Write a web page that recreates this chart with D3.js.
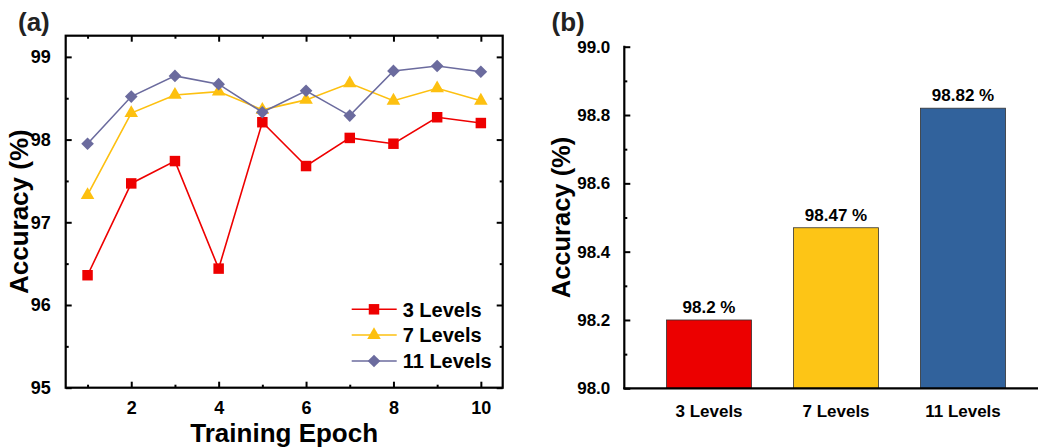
<!DOCTYPE html>
<html>
<head>
<meta charset="utf-8">
<script src="https://cdn.jsdelivr.net/npm/d3@7/dist/d3.min.js"></script>
<style>
  html, body { margin: 0; padding: 0; background: #fff; }
  svg { display: block; font-family: "Liberation Sans", Arial, sans-serif; font-weight: bold; }
</style>
</head>
<body>
<svg id="chart" width="1038" height="447"></svg>
<script>
// ---- data ----
const epochs = [1, 2, 3, 4, 5, 6, 7, 8, 9, 10];
const acc3 = [96.36, 97.47, 97.74, 96.44, 98.21, 97.68, 98.02, 97.95, 98.27, 98.20];
const acc7 = [97.33, 98.32, 98.54, 98.58, 98.36, 98.48, 98.68, 98.47, 98.62, 98.47];
const acc11 = [97.95, 98.52, 98.77, 98.67, 98.33, 98.59, 98.29, 98.83, 98.89, 98.82];
const seriesNames = ["3 Levels", "7 Levels", "11 Levels"];
const seriesColors = ["#ee0000", "#fdc010", "#6b6b9e"];
const epochTicks = [2, 4, 6, 8, 10];
const accTicksA = [95, 96, 97, 98, 99];

const barCategories = ["3 Levels", "7 Levels", "11 Levels"];
const barValues = [98.2, 98.47, 98.82];
const barColors = ["#ec0000", "#fdc516", "#31629c"];
const accTicksB = [98.0, 98.2, 98.4, 98.6, 98.8, 99.0];

const svg = d3.select("#chart");
svg.append("rect").attr("width", 1038).attr("height", 447).attr("fill", "#fff");

// ---- panel (a): accuracy per training epoch ----
const A = { left: 65.7, right: 502.7, top: 35.7, bottom: 387.7 };
const xA = d3.scaleLinear().domain([0.5, 10.5]).range([A.left, A.right]);
const yA = d3.scaleLinear().domain([95, 99.256]).range([A.bottom, A.top]);
const gA = svg.append("g");

const majorLen = 6, minorLen = 3;
function inwardAxis(g, axisGen, transform) {
  const ax = g.append("g").attr("transform", transform).call(axisGen);
  ax.select(".domain").remove();
  ax.selectAll("line").attr("stroke", "#000").attr("stroke-width", 2);
  return ax;
}

// bottom axis (labels) with inward ticks
const xMinor = d3.range(1, 11, 2);
inwardAxis(gA, d3.axisBottom(xA).tickValues(epochTicks).tickSize(-majorLen).tickPadding(14)
  .tickFormat(d3.format("d")), `translate(0,${A.bottom})`)
  .selectAll("text").attr("font-size", 18).attr("font-family", "Liberation Sans, Arial").attr("font-weight", "bold").attr("fill", "#000");
inwardAxis(gA, d3.axisBottom(xA).tickValues(xMinor).tickSize(-minorLen).tickFormat(""), `translate(0,${A.bottom})`);
// top axis: inward ticks, no labels
inwardAxis(gA, d3.axisTop(xA).tickValues(epochTicks).tickSize(-majorLen).tickFormat(""), `translate(0,${A.top})`);
inwardAxis(gA, d3.axisTop(xA).tickValues(xMinor).tickSize(-minorLen).tickFormat(""), `translate(0,${A.top})`);
// left axis
const yMinorA = d3.range(95.5, 99.3, 1);
inwardAxis(gA, d3.axisLeft(yA).tickValues(accTicksA).tickSize(-majorLen).tickPadding(15)
  .tickFormat(d3.format("d")), `translate(${A.left},0)`)
  .selectAll("text").attr("font-size", 18).attr("font-family", "Liberation Sans, Arial").attr("font-weight", "bold").attr("fill", "#000");
inwardAxis(gA, d3.axisLeft(yA).tickValues(yMinorA).tickSize(-minorLen).tickFormat(""), `translate(${A.left},0)`);
// right axis
inwardAxis(gA, d3.axisRight(yA).tickValues(accTicksA).tickSize(-majorLen).tickFormat(""), `translate(${A.right},0)`);
inwardAxis(gA, d3.axisRight(yA).tickValues(yMinorA).tickSize(-minorLen).tickFormat(""), `translate(${A.right},0)`);

// frame
gA.append("rect").attr("x", A.left).attr("y", A.top)
  .attr("width", A.right - A.left).attr("height", A.bottom - A.top)
  .attr("fill", "none").attr("stroke", "#000").attr("stroke-width", 2.2);

// series
const seriesData = [acc3, acc7, acc11];
const symbolFor = [
  d3.symbol().type(d3.symbolSquare).size(110),
  d3.symbol().type(d3.symbolTriangle).size(80),
  d3.symbol().type(d3.symbolSquare).size(80)
];
const symbolRotate = [0, 0, 45];
const line = d3.line().x((d, i) => xA(epochs[i])).y(d => yA(d));

seriesData.forEach((vals, s) => {
  gA.append("path").datum(vals).attr("d", line)
    .attr("fill", "none").attr("stroke", seriesColors[s]).attr("stroke-width", 1.6);
  gA.selectAll(null).data(vals).enter().append("path")
    .attr("d", symbolFor[s]())
    .attr("transform", (d, i) => `translate(${xA(epochs[i])},${yA(d)}) rotate(${symbolRotate[s]})`)
    .attr("fill", seriesColors[s]);
});

// legend
const legendRows = [309.3, 335, 361];
seriesNames.forEach((name, s) => {
  const g = gA.append("g").attr("transform", `translate(0,${legendRows[s]})`);
  g.append("line").attr("x1", 351.7).attr("x2", 396.7).attr("y1", 0).attr("y2", 0)
    .attr("stroke", seriesColors[s]).attr("stroke-width", 1.6);
  g.append("path").attr("d", symbolFor[s]())
    .attr("transform", `translate(374,0) rotate(${symbolRotate[s]})`).attr("fill", seriesColors[s]);
  g.append("text").attr("x", 402.7).attr("y", 7.3).attr("font-size", 20).attr("fill", "#000").text(name);
});

// titles
gA.append("text").attr("x", (A.left + A.right) / 2).attr("y", 442).attr("text-anchor", "middle")
  .attr("font-size", 26).attr("fill", "#000").text("Training Epoch");
gA.append("text").attr("transform", `translate(27.5,${(A.top + A.bottom) / 2}) rotate(-90)`)
  .attr("text-anchor", "middle").attr("font-size", 26).attr("fill", "#000").text("Accuracy (%)");
svg.append("text").attr("x", 18).attr("y", 31).attr("font-size", 26).attr("fill", "#222").text("(a)");

// ---- panel (b): final accuracy per level count ----
const B = { left: 624.3, right: 1047.7, top: 46.7, bottom: 388.3 };
const xB = d3.scaleBand().domain(barCategories).range([B.left, B.right]).paddingInner(0.33).paddingOuter(0.332);
const yB = d3.scaleLinear().domain([98.0, 99.0]).range([B.bottom, B.top]);
const gB = svg.append("g");

gB.selectAll("rect.bar").data(barValues).enter().append("rect").attr("class", "bar")
  .attr("x", (d, i) => xB(barCategories[i]))
  .attr("width", xB.bandwidth())
  .attr("y", d => yB(d))
  .attr("height", d => yB(98.0) - yB(d))
  .attr("fill", (d, i) => barColors[i])
  .attr("stroke", "#333").attr("stroke-width", 0.8);

gB.selectAll("text.val").data(barValues).enter().append("text").attr("class", "val")
  .attr("x", (d, i) => xB(barCategories[i]) + xB.bandwidth() / 2)
  .attr("y", d => yB(d) - 7)
  .attr("text-anchor", "middle").attr("font-size", 17).attr("fill", "#000")
  .text(d => d + " %");

// y axis
const yMinorB = d3.range(98.1, 99.0, 0.2);
const yAxB = gB.append("g").attr("transform", `translate(${B.left},0)`)
  .call(d3.axisLeft(yB).tickValues(accTicksB).tickSize(-majorLen).tickPadding(14).tickFormat(d3.format(".1f")));
yAxB.select(".domain").remove();
yAxB.selectAll("line").attr("stroke", "#000").attr("stroke-width", 2);
yAxB.selectAll("text").attr("font-size", 17).attr("font-family", "Liberation Sans, Arial").attr("font-weight", "bold").attr("fill", "#000");
const yAxBm = gB.append("g").attr("transform", `translate(${B.left},0)`)
  .call(d3.axisLeft(yB).tickValues(yMinorB).tickSize(-minorLen).tickFormat(""));
yAxBm.select(".domain").remove();
yAxBm.selectAll("line").attr("stroke", "#000").attr("stroke-width", 2);
gB.append("line").attr("x1", B.left).attr("x2", B.left).attr("y1", B.top - 1).attr("y2", B.bottom + 1)
  .attr("stroke", "#000").attr("stroke-width", 2.2);

// x axis
const xAxB = gB.append("g").attr("transform", `translate(0,${B.bottom})`)
  .call(d3.axisBottom(xB).tickSize(0).tickPadding(29));
xAxB.select(".domain").remove();
xAxB.selectAll("text").attr("font-size", 17).attr("font-family", "Liberation Sans, Arial").attr("font-weight", "bold").attr("fill", "#000")
  .attr("dy", "0");
gB.append("line").attr("x1", B.left - 1).attr("x2", B.right).attr("y1", B.bottom).attr("y2", B.bottom)
  .attr("stroke", "#000").attr("stroke-width", 2.2);

gB.append("text").attr("transform", `translate(570,${(B.top + B.bottom) / 2}) rotate(-90)`)
  .attr("text-anchor", "middle").attr("font-size", 25.5).attr("fill", "#000").text("Accuracy (%)");
svg.append("text").attr("x", 551.5).attr("y", 31).attr("font-size", 26).attr("fill", "#222").text("(b)");
</script>
</body>
</html>
